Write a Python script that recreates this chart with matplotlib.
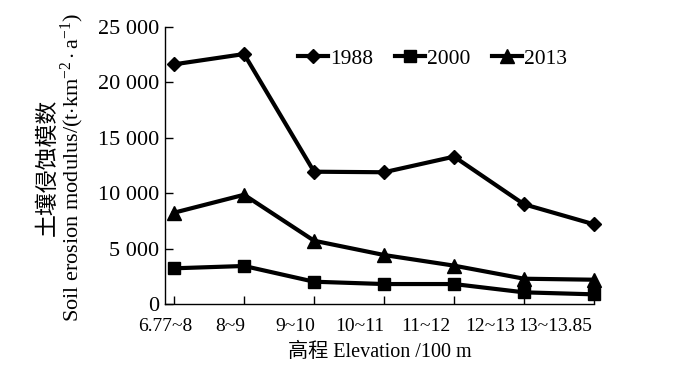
import matplotlib.pyplot as plt

plt.rcParams['font.family'] = ['Liberation Serif', 'Noto Sans CJK SC']
plt.rcParams['mathtext.fontset'] = 'custom'
plt.rcParams['mathtext.rm'] = 'Liberation Serif'
plt.rcParams['mathtext.it'] = 'Liberation Serif:italic'

elevation = ['6.77~8', '8~9', '9~10', '10~11', '11~12', '12~13', '13~13.85']
y1988 = [21630, 22560, 11940, 11890, 13300, 9000, 7190]
y2000 = [3220, 3430, 2010, 1800, 1800, 1050, 870]
y2013 = [8240, 9860, 5710, 4420, 3460, 2280, 2190]
yticks = [0, 5000, 10000, 15000, 20000, 25000]
ytick_labels = ['0', '5 000', '10 000', '15 000', '20 000', '25 000']

fig = plt.figure(figsize=(7, 3.69), dpi=100)
ax = fig.add_axes([0.2357, 0.1762, 0.6129, 0.7506])
x = list(range(len(elevation)))
ax.plot(x, y1988, color='black', lw=3, marker='D', ms=7, label='1988', clip_on=False)
ax.plot(x, y2000, color='black', lw=3, marker='s', ms=9, label='2000', clip_on=False)
ax.plot(x, y2013, color='black', lw=3, marker='^', ms=10, label='2013', clip_on=False)

ax.set_xlim(0, 6)
ax.set_ylim(0, 25000)
# major ticks at the categories, labels sit slightly left of them as in the original
ax.set_xticks(x)
ax.set_xticklabels([])
ax.set_xticks([i * 0.93 - 0.13 for i in x], minor=True)
ax.set_xticklabels(elevation, minor=True, fontsize=14)
ax.tick_params(axis='x', which='minor', length=0, pad=10)
ax.set_yticks(yticks)
ax.set_yticklabels(ytick_labels, fontsize=16)
ax.tick_params(which='major', direction='in', length=6, width=1)
ax.tick_params(axis='y', pad=4)
ax.spines['top'].set_visible(False)
ax.spines['right'].set_visible(False)
for s in ['left', 'bottom']:
    ax.spines[s].set_linewidth(1)

ax.legend(loc='center', bbox_to_anchor=(0.623, 0.885), ncol=3, frameon=False,
          fontsize=15.5, handlelength=1.4, handletextpad=0.1, columnspacing=1.0)

ax.set_xlabel('高程 Elevation /100 m', fontsize=14.5, labelpad=6)
fig.text(0.068, 0.547, '土壤侵蚀模数', rotation=90, fontsize=16.5, ha='center', va='center')
fig.text(0.103, 0.547, r'Soil erosion modulus/(t$\cdot$km$^{-2}\cdot$a$^{-1}$)', rotation=90,
         fontsize=16, ha='center', va='center')

fig.savefig('out.png', dpi=100)
